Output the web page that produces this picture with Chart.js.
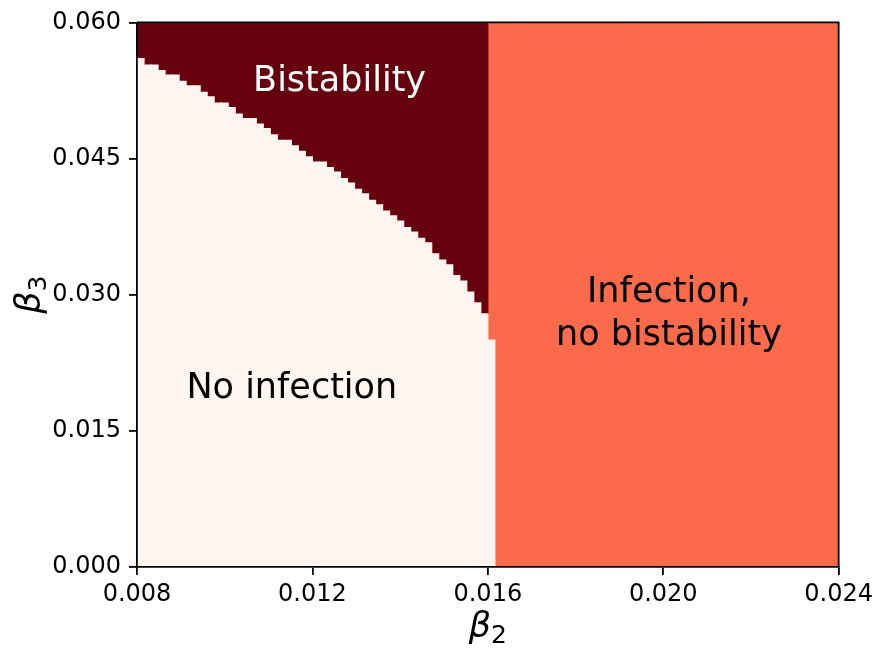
<!DOCTYPE html>
<html>
<head>
<meta charset="utf-8">
<script src="https://cdn.jsdelivr.net/npm/chart.js@4.4.1/dist/chart.umd.min.js"></script>
<style>
  html, body { margin: 0; padding: 0; background: #ffffff; }
  #wrap { width: 878px; height: 649px; }
</style>
</head>
<body>
<div id="wrap"><canvas id="phase" width="878" height="649"></canvas></div>
<script>
// Parameter ranges of the phase diagram
const beta2Range = [0.008, 0.024];
const beta3Range = [0.000, 0.060];
const gridColumns = 100;

// Upper edge (in β3) of the no-infection region for each β2 column, left to right
const noInfectionTop = [
  0.0560, 0.0553, 0.0553, 0.0547, 0.0542, 0.0542, 0.0535, 0.0530, 0.0530, 0.0523,
  0.0518, 0.0511, 0.0511, 0.0506, 0.0499, 0.0494, 0.0494, 0.0488, 0.0483, 0.0476,
  0.0470, 0.0470, 0.0464, 0.0458, 0.0452, 0.0446, 0.0446, 0.0440, 0.0435, 0.0428,
  0.0423, 0.0416, 0.0411, 0.0404, 0.0399, 0.0392, 0.0387, 0.0381, 0.0374, 0.0369,
  0.0362, 0.0357, 0.0345, 0.0338, 0.0333, 0.0321, 0.0315, 0.0303, 0.0291, 0.0279,
  0.0250
];
// Columns (from the left) where the state above the boundary is bistable
const bistableColumns = 50;

const xTickValues = [0.008, 0.012, 0.016, 0.020, 0.024];
const xTickLabels = ['0.008', '0.012', '0.016', '0.020', '0.024'];
const yTickValues = [0.000, 0.015, 0.030, 0.045, 0.060];
const yTickLabels = ['0.000', '0.015', '0.030', '0.045', '0.060'];

const regionNames = ['No infection', 'Bistability', 'Infection,\nno bistability'];
const regionColors = ['#fff5f0', '#67000d', '#fb6a4a'];

// Build one stacked bar per β2 column
const dx = (beta2Range[1] - beta2Range[0]) / gridColumns;
const centers = Array.from({ length: gridColumns }, (_, i) => beta2Range[0] + (i + 0.5) * dx);
const lowTop = i => (i < noInfectionTop.length ? noInfectionTop[i] : 0);

const noInfectionData = centers.map((x, i) => ({ x, y: lowTop(i) > 0 ? lowTop(i) : null }));
const bistableData = centers.map((x, i) => ({ x, y: i < bistableColumns ? beta3Range[1] - lowTop(i) : null }));
const infectionData = centers.map((x, i) => ({ x, y: i >= bistableColumns ? beta3Range[1] - lowTop(i) : null }));

Chart.defaults.font.family = "'DejaVu Sans', sans-serif";
Chart.defaults.color = '#000000';

const FONT_TICK = 24;
const FONT_TEXT = 35;

function drawMathLabel(ctx, base, sub, cx, baseline) {
  const big = `italic ${FONT_TEXT}px 'DejaVu Sans'`;
  const small = `${Math.round(FONT_TEXT * 0.7)}px 'DejaVu Sans'`;
  ctx.font = big;
  const wb = ctx.measureText(base).width;
  ctx.font = small;
  const ws = ctx.measureText(sub).width;
  const start = cx - (wb + ws) / 2;
  ctx.textAlign = 'left';
  ctx.textBaseline = 'alphabetic';
  ctx.font = big;
  ctx.fillText(base, start, baseline);
  ctx.font = small;
  ctx.fillText(sub, start + wb, baseline + FONT_TEXT * 0.16);
}

const decorations = {
  id: 'decorations',
  afterDraw(chart) {
    const { ctx, chartArea: a, scales: { x, y } } = chart;
    ctx.save();
    // top and right spines
    ctx.strokeStyle = '#000000';
    ctx.lineWidth = 1.8;
    ctx.beginPath();
    ctx.moveTo(a.left, a.top);
    ctx.lineTo(a.right, a.top);
    ctx.lineTo(a.right, a.bottom);
    ctx.stroke();

    // region names, anchored in data coordinates (x centre, first baseline)
    const anchors = [
      { x: 0.01153, y: 0.01861, color: '#000000' },
      { x: 0.01262, y: 0.05245, color: '#ffffff' },
      { x: 0.02013, y: 0.02923, color: '#000000' }
    ];
    ctx.font = `${FONT_TEXT}px 'DejaVu Sans'`;
    ctx.textAlign = 'center';
    ctx.textBaseline = 'alphabetic';
    regionNames.forEach((name, k) => {
      const px = x.getPixelForValue(anchors[k].x);
      const py = y.getPixelForValue(anchors[k].y);
      ctx.fillStyle = anchors[k].color;
      name.split('\n').forEach((line, j) => ctx.fillText(line, px, py + j * 43));
    });

    // axis titles
    ctx.fillStyle = '#000000';
    drawMathLabel(ctx, 'β', '2', (a.left + a.right) / 2, 637);
    ctx.save();
    ctx.translate(40, (a.top + a.bottom) / 2);
    ctx.rotate(-Math.PI / 2);
    drawMathLabel(ctx, 'β', '3', 0, 0);
    ctx.restore();
    ctx.restore();
  }
};

const axisGrid = () => ({
  display: true,
  offset: false,
  drawOnChartArea: false,
  drawTicks: true,
  tickLength: 8,
  lineWidth: 1.8,
  tickWidth: 1.8,
  tickColor: '#000000',
  color: '#000000'
});

new Chart(document.getElementById('phase'), {
  type: 'bar',
  data: {
    datasets: [
      { label: regionNames[0], data: noInfectionData, backgroundColor: regionColors[0] },
      { label: regionNames[1], data: bistableData, backgroundColor: regionColors[1] },
      { label: regionNames[2], data: infectionData, backgroundColor: regionColors[2] }
    ]
  },
  options: {
    responsive: false,
    animation: false,
    events: [],
    layout: { padding: { top: 19, right: 38, left: 0, bottom: 0 } },
    datasets: {
      bar: { barPercentage: 1, categoryPercentage: 1, borderWidth: 0, inflateAmount: 0.6 }
    },
    plugins: {
      legend: { display: false },
      tooltip: { enabled: false }
    },
    scales: {
      x: {
        type: 'linear',
        stacked: true,
        offset: false,
        min: beta2Range[0],
        max: beta2Range[1],
        grid: axisGrid(),
        border: { display: true, color: '#000000', width: 1.8, z: 1 },
        afterBuildTicks: s => { s.ticks = xTickValues.map(v => ({ value: v })); },
        afterFit: s => { s.height = 82; },
        ticks: {
          padding: 5,
          maxRotation: 0,
          font: { size: FONT_TICK },
          color: '#000000',
          callback: (v, i) => xTickLabels[i]
        }
      },
      y: {
        type: 'linear',
        stacked: true,
        min: beta3Range[0],
        max: beta3Range[1],
        grid: axisGrid(),
        border: { display: true, color: '#000000', width: 1.8, z: 1 },
        afterBuildTicks: s => { s.ticks = yTickValues.map(v => ({ value: v })); },
        afterFit: s => { s.width = 137; },
        ticks: {
          padding: 8,
          font: { size: FONT_TICK },
          color: '#000000',
          callback: (v, i) => yTickLabels[i]
        }
      }
    }
  },
  plugins: [decorations]
});
</script>
</body>
</html>
